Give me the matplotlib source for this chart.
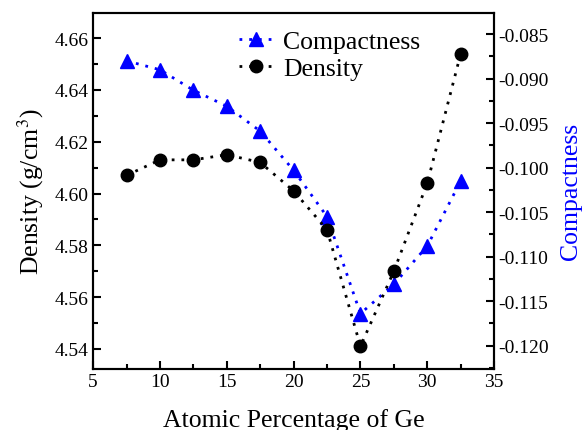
import matplotlib.pyplot as plt
from matplotlib.ticker import MultipleLocator

plt.rcParams['font.family'] = ['Liberation Serif', 'DejaVu Serif']
plt.rcParams['mathtext.fontset'] = 'stix'

# data
ge_pct = [7.5, 10, 12.5, 15, 17.5, 20, 22.5, 25, 27.5, 30, 32.5]
density = [4.607, 4.613, 4.613, 4.615, 4.612, 4.601, 4.586, 4.541, 4.570, 4.604, 4.654]
compactness = [-0.0880, -0.0890, -0.0913, -0.0931, -0.0959, -0.1003,
               -0.1055, -0.1164, -0.1131, -0.1088, -0.1015]

fig, ax = plt.subplots(figsize=(5.82, 4.31), dpi=100)
fig.subplots_adjust(left=0.16, right=0.849, top=0.968, bottom=0.142)
ax2 = ax.twinx()

l2, = ax2.plot(ge_pct, compactness, color='blue', linestyle=(0, (1, 2.5)), linewidth=2,
               marker='^', markersize=9.5, label='Compactness')
l1, = ax.plot(ge_pct, density, color='black', linestyle=(0, (1, 2.5)), linewidth=2,
              marker='o', markersize=9, label='Density')
ax.set_zorder(ax2.get_zorder() + 1)
ax.patch.set_visible(False)

ax.set_xlim(5, 35)
ax.set_ylim(4.5323, 4.6698)
ax2.set_ylim(-0.1226, -0.0826)

ax.xaxis.set_major_locator(MultipleLocator(5))
ax.xaxis.set_minor_locator(MultipleLocator(2.5))
ax.yaxis.set_major_locator(MultipleLocator(0.02))
ax.yaxis.set_minor_locator(MultipleLocator(0.01))
ax2.yaxis.set_major_locator(MultipleLocator(0.005))
ax2.yaxis.set_minor_locator(MultipleLocator(0.0025))
ax.yaxis.set_major_formatter(plt.FormatStrFormatter('%.2f'))
ax2.yaxis.set_major_formatter(plt.FormatStrFormatter('%.3f'))

for a in (ax, ax2):
    a.tick_params(which='major', direction='in', length=6, width=1.5, labelsize=14, pad=3)
    a.tick_params(which='minor', direction='in', length=3.5, width=1.5)
    for s in a.spines.values():
        s.set_linewidth(1.5)

ax.set_xlabel('Atomic Percentage of Ge', fontsize=18.5, labelpad=13)
ax.set_ylabel('Density (g/cm$^3$)', fontsize=18.5, labelpad=6)
ax2.set_ylabel('Compactness', fontsize=18.5, color='blue', labelpad=8)

ax.legend([l2, l1], ['Compactness', 'Density'], loc='upper center',
          bbox_to_anchor=(0.59, 1.01), frameon=False, fontsize=18.5,
          handlelength=1.3, handletextpad=0.4, borderpad=0.3, labelspacing=0.15)

plt.savefig('out.png')
